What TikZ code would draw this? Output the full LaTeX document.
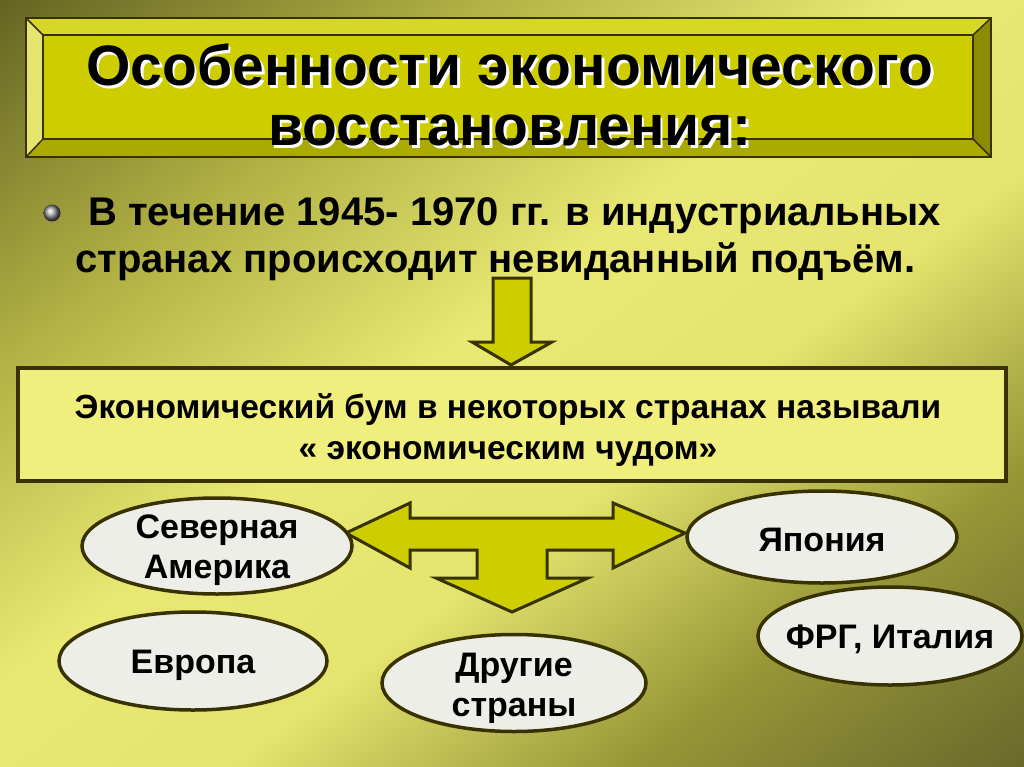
\documentclass[tikz,border=0pt]{standalone}
\usepackage{fontspec}
\setmainfont{Liberation Sans}
\usetikzlibrary{shapes.geometric}
\definecolor{bgA}{RGB}{100,100,35}
\definecolor{bgB}{RGB}{180,180,70}
\definecolor{bgC}{RGB}{232,232,115}
\definecolor{bgD}{RGB}{228,228,110}
\definecolor{bgE}{RGB}{150,150,55}
\definecolor{bgF}{RGB}{105,105,45}
\definecolor{face}{RGB}{205,205,0}
\definecolor{bevtop}{RGB}{215,215,40}
\definecolor{bevleft}{RGB}{228,228,110}
\definecolor{bevright}{RGB}{140,140,0}
\definecolor{bevbot}{RGB}{170,170,0}
\definecolor{edge}{RGB}{55,50,0}
\definecolor{boxfill}{RGB}{240,238,125}
\definecolor{ellfill}{RGB}{238,238,232}
\pgfdeclarehorizontalshading{bgband}{100bp}{color(0bp)=(bgA); color(32.9bp)=(bgA); color(41.3bp)=(bgB); color(48.2bp)=(bgC); color(53.8bp)=(bgD); color(60.5bp)=(bgE); color(67.1bp)=(bgF); color(100bp)=(bgF)}
\pgfdeclareradialshading{ball}{\pgfpoint{-7bp}{7bp}}{color(0bp)=(white); color(6bp)=(gray!30); color(20bp)=(black!70); color(25bp)=(black!85); color(50bp)=(black!85)}
\tikzset{
  ell/.style={ellipse, draw=edge, line width=3.5pt, fill=ellfill, inner sep=0pt},
  elltext/.style={font=\bfseries\fontsize{34}{40}\selectfont, align=center, inner sep=0pt},
  arrowshape/.style={draw=edge, line width=3pt, fill=face, line join=miter},
  bevel/.style={draw=edge, line width=1.5pt, line join=miter},
  titletext/.style={font=\bfseries\fontsize{57}{60}\selectfont, align=center}
}
\begin{document}
\begin{tikzpicture}[x=1pt,y=-1pt]
\useasboundingbox (0,0) rectangle (1024,767);
\begin{scope}
\clip (0,0) rectangle (1024,767);
\shade[shading=bgband, shading angle=-53.13] (-388,-517) rectangle (1412,1283);
\end{scope}
% title box with bevel
\coordinate (o1) at (26,18); \coordinate (o2) at (991,18);
\coordinate (o3) at (991,157); \coordinate (o4) at (26,157);
\coordinate (i1) at (43,35); \coordinate (i2) at (973,35);
\coordinate (i3) at (973,139); \coordinate (i4) at (43,139);
\fill[bevtop] (o1) -- (o2) -- (i2) -- (i1) -- cycle;
\fill[bevright] (o2) -- (o3) -- (i3) -- (i2) -- cycle;
\fill[bevbot] (o3) -- (o4) -- (i4) -- (i3) -- cycle;
\fill[bevleft] (o4) -- (o1) -- (i1) -- (i4) -- cycle;
\fill[face] (i1) rectangle (i3);
\draw[bevel] (i1) rectangle (i3);
\draw[bevel] (o1) -- (i1) (o2) -- (i2) (o3) -- (i3) (o4) -- (i4);
\draw[draw=edge, line width=2.5pt] (o1) rectangle (o3);
\node (titleshadow) [titletext, text=white] at (512.5,97.5) {Особенности экономического\\восстановления:};
\node (title) [titletext] at (510,95) {Особенности экономического\\восстановления:};
% bullet text
\shade[shading=ball] (52,213) circle (8.5);
\node (bullet) [font=\bfseries\fontsize{40}{47}\selectfont, align=left, anchor=north west, inner sep=0pt] at (75,197) {\hspace*{13pt}В течение 1945- 1970 гг. в индустриальных\\странах происходит невиданный подъём.};
% down arrow
\draw[arrowshape] (493,278) -- (531,278) -- (531,342) -- (552,342) -- (511,365) -- (472,342) -- (493,342) -- cycle;
% box
\node (boom) [draw=edge, line width=4pt, fill=boxfill, minimum width=988pt, minimum height=113pt] at (512,424.5) {};
\node (boomtext) [font=\bfseries\fontsize{33.5}{41}\selectfont, align=center, inner sep=0pt] at (508,430) {Экономический бум в некоторых странах называли\\« экономическим чудом»};
% three-way arrow
\draw[arrowshape] (346,533) -- (410,503) -- (410,518) -- (613,518) -- (613,503) -- (685,533) -- (613,568) -- (613,550) -- (547,550) -- (547,578) -- (588,578) -- (512,612) -- (436,578) -- (477,578) -- (477,550) -- (410,550) -- (410,568) -- cycle;
% ellipses
\node (na) [ell, minimum width=270pt, minimum height=96pt] at (217,546) {};
\node (eu) [ell, minimum width=268pt, minimum height=98pt] at (193,661) {};
\node (jp) [ell, minimum width=270pt, minimum height=92pt] at (822,537) {};
\node (fr) [ell, minimum width=264pt, minimum height=98pt] at (890,636) {};
\node (ot) [ell, minimum width=264pt, minimum height=97pt] at (514,683) {};
\node (natext) [elltext] at (217,550) {Северная\\Америка};
\node (eutext) [elltext] at (193,665) {Европа};
\node (jptext) [elltext] at (822,540) {Япония};
\node (frtext) [elltext] at (890,639) {ФРГ, Италия};
\node (ottext) [elltext] at (514,688) {Другие\\страны};
\end{tikzpicture}
\end{document}
